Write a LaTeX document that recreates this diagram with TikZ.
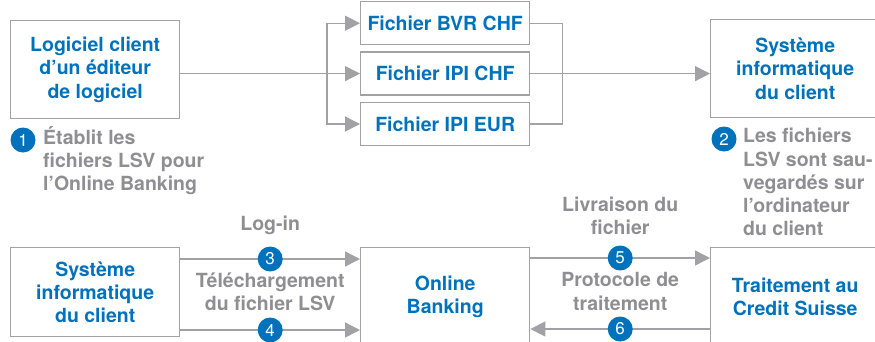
\documentclass[tikz,border=0pt]{standalone}
\usepackage{fontspec}
\setmainfont{TeX Gyre Heros}
\usepackage{tikz}
\usetikzlibrary{positioning,arrows.meta,calc}
\definecolor{csblue}{RGB}{0,114,187}
\definecolor{framegray}{RGB}{162,162,166}
\definecolor{notegray}{RGB}{142,142,147}

\begin{document}
\begin{tikzpicture}[x=1pt, y=-1pt,
  every node/.style = {font=\bfseries\fontsize{19.5}{23.3}\selectfont},
  box/.style = {draw=framegray, line width=1.4pt, text=csblue,
    align=center, inner sep=0pt,
    minimum width=169pt, minimum height=98pt},
  filebox/.style = {box, minimum height=43pt},
  link/.style = {draw=framegray, line width=1.4pt,
    -{Triangle[length=15pt,width=15pt]}},
  wire/.style = {draw=framegray, line width=1.4pt},
  stepnum/.style = {circle, fill=csblue, text=white, inner sep=0pt,
    minimum size=25pt, font=\fontsize{17}{17}\selectfont},
  note/.style = {text=notegray, align=left, inner sep=0pt},
  caption/.style = {text=notegray, align=center, inner sep=0pt}]

  \useasboundingbox (0,0) rectangle (875,341);
  \clip (0,0) rectangle (875,341);

  % upper row: software, LSV files, client system
  \node[box, anchor=north west] (soft) at (10,20) {Logiciel client\\d’un éditeur\\de logiciel};
  \node[filebox, anchor=north west] (bvr) at (360,1) {Fichier BVR CHF};
  \node[filebox, below=6pt of bvr] (ipichf) {Fichier IPI CHF};
  \node[filebox, below=6pt of ipichf] (ipieur) {Fichier IPI EUR};
  \node[box, anchor=north west] (sysa) at (710,19) {Système\\informatique\\du client};

  \coordinate[left=33pt of ipichf.west] (split);
  \coordinate[right=32pt of ipichf.east] (join);

  \draw[link] (soft.east |- ipichf) -- (ipichf);
  \draw[link] (split) |- (bvr);
  \draw[link] (split) |- (ipieur);
  \draw[wire] (bvr) -| (join) |- (ipieur);
  \draw[link] (ipichf) -- (ipichf -| sysa.west);

  \node[stepnum] (s1) at (23,140) {1};
  \node[note, anchor=north west] (n1) at (43,126) {Établit les\\fichiers LSV pour\\l’Online Banking};
  \node[stepnum] (s2) at (724,139) {2};
  \node[note, anchor=north west] (n2) at (743,128) {Les fichiers\\LSV sont sau-\\vegardés sur\\l’ordinateur\\du client};

  % lower row: client system, Online Banking, processing
  \node[box, anchor=north west, minimum height=89pt] (sysb) at (10,247) {Système\\informatique\\du client};
  \node[box, anchor=north west] (online) at (360,247) {Online\\Banking};
  \node[box, anchor=north west] (cs) at (710,247) {Traitement au\\Credit Suisse};

  \draw[link] ([yshift=-12pt]sysb.north east) -- node[stepnum] (s3) {3} ([yshift=-12pt]online.north west);
  \draw[link] ([yshift=-83pt]sysb.north east) -- node[stepnum] (s4) {4} ([yshift=-83pt]online.north west);
  \draw[link] ([yshift=-11pt]online.north east) -- node[stepnum] (s5) {5} ([yshift=-11pt]cs.north west);
  \draw[link] ([yshift=-82pt]cs.north west) -- node[stepnum] (s6) {6} ([yshift=-82pt]online.north east);

  \node[caption, above=11pt of s3] (login) {Log-in};
  \node[caption, yshift=3pt] (upload) at ($(s3)!0.5!(s4)$) {Téléchargement\\du fichier LSV};
  \node[caption, above=10pt of s5] (delivery) {Livraison du\\fichier};
  \node[caption, yshift=2pt] (report) at ($(s5)!0.5!(s6)$) {Protocole de\\traitement};
\end{tikzpicture}
\end{document}
